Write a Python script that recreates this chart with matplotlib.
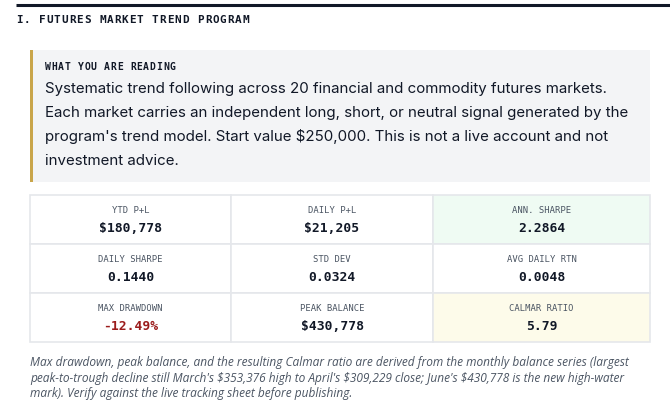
import matplotlib.pyplot as plt
from matplotlib.patches import Rectangle

# contenu
section_title = "I. FUTURES MARKET TREND PROGRAM"
callout_head = "WHAT YOU ARE READING"
callout_lines = [
    "Systematic trend following across 20 financial and commodity futures markets.",
    "Each market carries an independent long, short, or neutral signal generated by the",
    "program's trend model. Start value $250,000. This is not a live account and not",
    "investment advice.",
]
stat_labels = [
    ["YTD P+L", "DAILY P+L", "ANN. SHARPE"],
    ["DAILY SHARPE", "STD DEV", "AVG DAILY RTN"],
    ["MAX DRAWDOWN", "PEAK BALANCE", "CALMAR RATIO"],
]
stat_values = [
    ["$180,778", "$21,205", "2.2864"],
    ["0.1440", "0.0324", "0.0048"],
    ["-12.49%", "$430,778", "5.79"],
]
footnote_lines = [
    "Max drawdown, peak balance, and the resulting Calmar ratio are derived from the monthly balance series (largest",
    "peak-to-trough decline still March's $353,376 high to April's $309,229 close; June's $430,778 is the new high-water",
    "mark). Verify against the live tracking sheet before publishing.",
]

W, H = 670, 402
fig = plt.figure(figsize=(W / 100, H / 100), dpi=100)
ax = fig.add_axes([0, 0, 1, 1])
ax.set_xlim(0, W)
ax.set_ylim(H, 0)
ax.axis('off')

mono = 'DejaVu Sans Mono'
dark = '#111827'


def spaced(x, y, s, pitch, **kw):
    # texte monospace avec espacement des lettres
    for k, ch in enumerate(s):
        ax.text(x + k * pitch, y, ch, family=mono, ha='left', va='center', **kw)


# ligne du haut + titre
ax.plot([16, W], [5.5, 5.5], color=dark, lw=2.2, solid_capstyle='butt')
spaced(16, 20, section_title, 7.55, weight='bold', fontsize=7.9, color=dark)

# encadré
ax.add_patch(Rectangle((30, 51), 620, 132, facecolor='#f3f4f6', edgecolor='none'))
ax.add_patch(Rectangle((30, 51), 3, 132, facecolor='#c9a54a', edgecolor='none'))
spaced(45, 67, callout_head, 6.55, weight='bold', fontsize=7.0, color=dark)
for i, line in enumerate(callout_lines):
    ax.text(45, 89 + 24 * i, line, family='Inter', fontsize=10.85, color=dark,
            va='center', ha='left')

# tableau des stats
col_x = [30, 231, 433, 650]
row_y = [196, 245, 294, 343]
fills = {(0, 2): '#effbf3', (2, 2): '#fdfbea'}
for r in range(3):
    for c in range(3):
        x0, x1 = col_x[c], col_x[c + 1]
        y0, y1 = row_y[r], row_y[r + 1]
        ax.add_patch(Rectangle((x0, y0), x1 - x0, y1 - y0,
                               facecolor=fills.get((r, c), 'white'),
                               edgecolor='#e5e7eb', lw=1.2))
        xc = (x0 + x1) / 2
        ax.text(xc, y0 + 15, stat_labels[r][c], family=mono, fontsize=6.4,
                color='#4b5563', ha='center', va='center')
        col = '#9b1c1c' if stat_values[r][c].startswith('-') else dark
        ax.text(xc, y0 + 32.5, stat_values[r][c], family=mono, weight='bold',
                fontsize=9.4, color=col, ha='center', va='center')

# note
for i, line in enumerate(footnote_lines):
    ax.text(30, 363 + 15.5 * i, line, family='Open Sans', style='italic',
            fontsize=8.55, color='#4b5563', ha='left', va='center')

fig.savefig('out.png', dpi=100)
